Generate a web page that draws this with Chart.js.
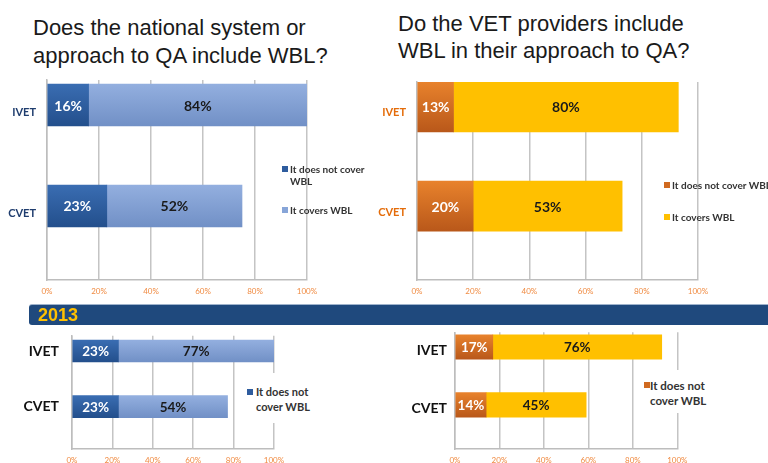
<!DOCTYPE html>
<html>
<head>
<meta charset="utf-8">
<script src="https://cdn.jsdelivr.net/npm/chart.js@4/dist/chart.umd.min.js"></script>
<style>
html,body{margin:0;padding:0;background:#fff;}
#root{position:relative;width:768px;height:463px;overflow:hidden;background:#fff;}
canvas{position:absolute;}
.title{position:absolute;font-family:"Liberation Sans",Arial,sans-serif;font-size:22px;color:#1a1a1a;white-space:nowrap;}
.banner{position:absolute;left:29px;top:305px;width:745px;height:20px;background:#1f497d;border-radius:3px 0 0 3px;box-shadow:0 -1px 0 #9fb3cc;}
.banner span{position:absolute;left:9px;top:0;font-family:"Liberation Sans",Arial,sans-serif;font-weight:bold;font-size:18px;line-height:20px;color:#ffc000;}
.lg{position:absolute;font-family:Lato,"Open Sans",sans-serif;font-weight:bold;color:#333;white-space:nowrap;}
.sq{position:absolute;width:6px;height:6px;}
.wbox{position:absolute;background:#fff;}
</style>
</head>
<body>
<div id="root">
  <div class="title" style="left:33px;top:14px;line-height:28px;">Does the national system or<br>approach to QA include WBL?</div>
  <div class="title" style="left:398px;top:11px;line-height:26.5px;">Do the VET providers include<br>WBL in their approach to QA?</div>

  <canvas id="tl" width="340" height="235" style="left:0;top:70px;width:340px;height:235px;"></canvas>
  <canvas id="tr" width="398" height="235" style="left:370px;top:70px;width:398px;height:235px;"></canvas>

  <div class="banner"><span>2013</span></div>

  <canvas id="bl" width="384" height="138" style="left:0;top:325px;width:384px;height:138px;"></canvas>
  <canvas id="br" width="384" height="138" style="left:384px;top:325px;width:384px;height:138px;"></canvas>

  <!-- legends -->
  <div class="sq" style="left:282px;top:166px;background:#2e5c9e;"></div>
  <div class="lg" style="left:290px;top:162.75px;font-size:10px;line-height:12.5px;">It does not cover<br>WBL</div>
  <div class="sq" style="left:282px;top:207px;background:#87a5d8;"></div>
  <div class="lg" style="left:290px;top:203.75px;font-size:10px;line-height:12.5px;">It covers WBL</div>

  <div class="sq" style="left:664px;top:182px;background:#d06a20;"></div>
  <div class="lg" style="left:672px;top:178.75px;font-size:10px;line-height:12.5px;">It does not cover WBL</div>
  <div class="sq" style="left:664px;top:214px;background:#ffc000;"></div>
  <div class="lg" style="left:672px;top:210.75px;font-size:10px;line-height:12.5px;">It covers WBL</div>

  <div class="wbox" style="left:240px;top:373px;width:80px;height:50px;"></div>
  <div class="sq" style="left:247px;top:389px;background:#2e5c9e;"></div>
  <div class="lg" style="left:256px;top:384.2px;font-size:11px;line-height:15px;">It does not<br>cover WBL</div>

  <div class="wbox" style="left:636px;top:370px;width:80px;height:43px;"></div>
  <div class="sq" style="left:644px;top:382px;background:#d06a20;"></div>
  <div class="lg" style="left:650px;top:377.5px;font-size:11.5px;line-height:15px;">It does not<br>cover WBL</div>
</div>

<script>
// ---------------- DATA ----------------
const categories = ['IVET', 'CVET'];
const seriesNames = ['It does not cover WBL', 'It covers WBL'];
const xTickValues = [0, 20, 40, 60, 80, 100];

// top-left: national system / approach
const nationalNotCover = [16, 23];
const nationalCovers = [84, 52];
// top-right: VET providers
const providersNotCover = [13, 20];
const providersCovers = [80, 53];
// bottom-left: national system, 2013
const national2013NotCover = [23, 23];
const national2013Covers = [77, 54];
// bottom-right: VET providers, 2013
const providers2013NotCover = [17, 14];
const providers2013Covers = [76, 45];

// ---------------- HELPERS ----------------
function vGrad(topC, botC, thick) {
  return (ctx) => {
    const chart = ctx.chart;
    if (!chart.chartArea || ctx.type !== 'data' || !chart.scales.y) return topC;
    const idx = ctx.parsed ? ctx.parsed.y : ctx.dataIndex;
    const cy = chart.scales.y.getPixelForValue(idx);
    if (!isFinite(cy)) return topC;
    const g = chart.ctx.createLinearGradient(0, cy - thick / 2, 0, cy + thick / 2);
    g.addColorStop(0, topC);
    g.addColorStop(1, botC);
    return g;
  };
}

const valueLabels = {
  id: 'valueLabels',
  afterDatasetsDraw(chart, args, opts) {
    const c = chart.ctx;
    c.save();
    c.font = 'bold ' + opts.size + 'px Lato, "Open Sans", sans-serif';
    c.textAlign = 'center';
    c.textBaseline = 'middle';
    chart.data.datasets.forEach((ds, di) => {
      const meta = chart.getDatasetMeta(di);
      meta.data.forEach((el, i) => {
        const v = ds.data[i].x;
        c.fillStyle = opts.colors[di];
        c.fillText(v + '%', (el.x + el.base) / 2, el.y + 1);
      });
    });
    c.restore();
  }
};

function makeChart(id, notCover, covers, g) {
  const toPts = (vals) => categories.map((c, i) => ({ y: i, x: vals[i] }));
  return new Chart(document.getElementById(id), {
    type: 'bar',
    data: {
      datasets: [
        { label: seriesNames[0], data: toPts(notCover), backgroundColor: vGrad(g.c1[0], g.c1[1], g.thick), borderWidth: 0 },
        { label: seriesNames[1], data: toPts(covers), backgroundColor: vGrad(g.c2[0], g.c2[1], g.thick), borderWidth: 0 }
      ]
    },
    plugins: [valueLabels],
    options: {
      responsive: false,
      animation: false,
      devicePixelRatio: 1,
      indexAxis: 'y',
      layout: { padding: { top: g.padTop, right: g.padRight, left: 0, bottom: 0 } },
      datasets: { bar: { barThickness: g.thick } },
      plugins: {
        legend: { display: false },
        tooltip: { enabled: false },
        valueLabels: { size: g.labelSize, colors: ['#ffffff', '#1a1a1a'] }
      },
      scales: {
        x: {
          type: 'linear', stacked: true, min: 0, max: 100, position: 'bottom', offset: false,
          afterBuildTicks: (s) => { s.ticks = xTickValues.map(v => ({ value: v })); },
          ticks: { callback: (v) => v + '%', color: '#f08a40', font: { family: 'Lato', size: 8 }, padding: g.xPad, maxRotation: 0, autoSkip: false },
          grid: { color: '#c4c4c4', lineWidth: 1.5, drawTicks: false, offset: false },
          border: { display: true, color: '#bdbdbd', width: 1.5 },
          afterFit: (s) => { s.height = g.xH; s.paddingLeft = 0; s.paddingRight = 0; }
        },
        y: {
          type: 'linear', stacked: true, reverse: true, min: -g.a, max: 1 + g.b, offset: false,
          afterBuildTicks: (s) => { s.ticks = categories.map((c, i) => ({ value: i })); },
          ticks: { callback: (v) => categories[v], color: g.yColor, font: { family: 'Lato', size: g.ySize, weight: 'bold' }, padding: g.yPad, labelOffset: g.yOff, autoSkip: false },
          grid: { display: false, drawTicks: false, offset: false },
          border: { display: true, color: '#bdbdbd', width: 1.5 },
          afterFit: (s) => { s.width = g.yW; s.paddingTop = 0; s.paddingBottom = 0; }
        }
      }
    }
  });
}

makeChart('tl', nationalNotCover, nationalCovers, {
  thick: 42, padTop: 10, padRight: 33, yW: 47, xH: 25, a: 0.2475, b: 0.733,
  xPad: 7, yPad: 11, yOff: 7, ySize: 11, yColor: '#1f3d6e', labelSize: 14,
  c1: ['#3a6db2', '#234f8c'], c2: ['#93afdf', '#7190c6']
});
makeChart('tr', providersNotCover, providersCovers, {
  thick: 50, padTop: 12, padRight: 70, yW: 47, xH: 25, a: 0.25, b: 0.745,
  xPad: 7, yPad: 11, yOff: 6, ySize: 11, yColor: '#e46c0a', labelSize: 14,
  c1: ['#e8822c', '#b9581a'], c2: ['#ffc000', '#ffc000']
});
makeChart('bl', national2013NotCover, national2013Covers, {
  thick: 22, padTop: 10.7, padRight: 110, yW: 72, xH: 14, a: 0.275, b: 0.76,
  xPad: 6.5, yPad: 13, yOff: 0, ySize: 14, yColor: '#111111', labelSize: 13.5,
  c1: ['#3a6db2', '#234f8c'], c2: ['#93afdf', '#7190c6']
});
makeChart('br', providers2013NotCover, providers2013Covers, {
  thick: 24.5, padTop: 7.3, padRight: 90.7, yW: 71, xH: 14, a: 0.253, b: 0.76,
  xPad: 6.5, yPad: 8, yOff: 4, ySize: 14, yColor: '#111111', labelSize: 13.5,
  c1: ['#e8822c', '#b9581a'], c2: ['#ffc000', '#ffc000']
});
</script>
</body>
</html>
